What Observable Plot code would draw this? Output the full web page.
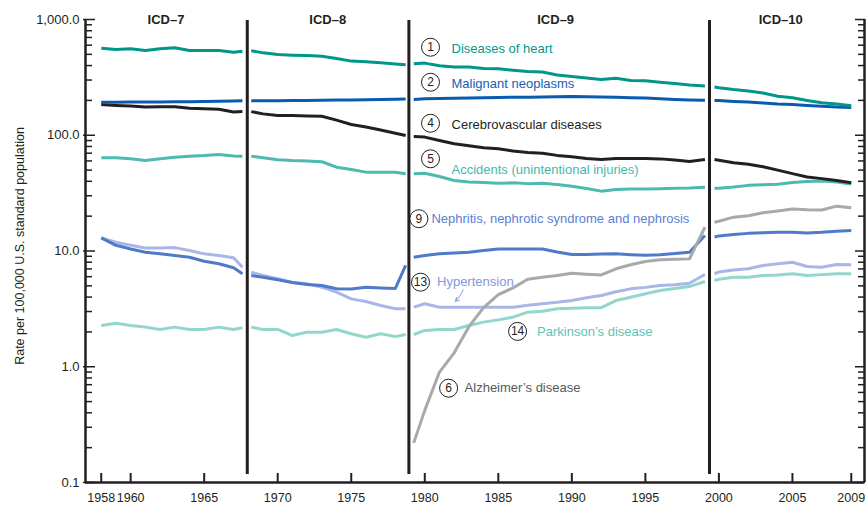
<!DOCTYPE html>
<html><head><meta charset="utf-8">
<script src="https://cdn.jsdelivr.net/npm/d3@7"></script>
<script src="https://cdn.jsdelivr.net/npm/@observablehq/plot@0.6"></script>
<style>
html,body{margin:0;padding:0;background:#fff;}
#chart svg{display:block;overflow:visible;}
</style></head><body><div id="chart"></div>
<script>
// ---------- DATA ----------
// Plotted year positions for each ICD revision period
const yearsICD7  = [1958,1959,1960,1961,1962,1963,1964,1965,1966,1967,1967.6];
const yearsICD8  = [1968.2,1969,1970,1971,1972,1973,1974,1975,1976,1977,1978,1978.7];
const yearsICD9  = [1979.25,1980,1981,1982,1983,1984,1985,1986,1987,1988,1989,1990,1991,1992,1993,1994,1995,1996,1997,1998,1999.05];
const yearsICD10 = [1999.7,2000,2001,2002,2003,2004,2005,2006,2007,2008,2009];
const revisionNames = ["ICD–7","ICD–8","ICD–9","ICD–10"];
const revisionBoundaries = [1967.93, 1978.92, 1999.36];
const revisionLabelYears = [1962.4, 1973.4, 1988.9, 2004.2];

// Age-adjusted death rates per 100,000 (ICD-7 | ICD-8 | ICD-9 | ICD-10)
const heart = [
  565,551,558,540,558,570,540,540,540,522,532,
  538,515,499,492,488,482,460,437,431,423,412,406,
  414,420,398,389,388,377,375,365,355,352,332,322,313,303,311,297,296,287,280,272,266,
  261,257,248,241,232,217,211,200,191,186,180];
const malignant = [
  193,193,194,194,194,195,195,196,197,198,199,
  199,199,199,200,200,201,202,202,203,204,205,206,
  204,207,208,209,210,211,212,213,213,214,215,216,215,214,213,211,210,207,204,202,201,
  200,199.6,196,193.5,190,186,184,181,178,175,173.5];
const cerebro = [
  184,181,179,175,176,176,171,169,168,159,160,
  160,153,148,148,147,146,135,124,118,111,104,99.5,
  97.5,96.4,90,84.4,81,78,76.6,73,71,70,67,65.3,63,61.7,63,63,63,62.5,61,59.3,61.7,
  61.6,60.9,57.9,56.2,53.5,50,46.6,43.6,42.2,40.7,38.9];
const accidents = [
  63.8,63.8,62.6,60.5,62.6,64.5,65.7,66.7,68.2,66.2,65.7,
  66,64,61.5,60.5,60,59,53,50.5,48,48,48,46.5,
  46.5,47,44,40.6,39.5,39,38.5,38.8,38.2,38.5,37.5,36.3,34.7,32.9,34,34.3,34.4,34.5,34.8,35,35.6,
  34.9,34.9,35.7,36.9,37.3,37.7,39.1,39.8,40.3,39.5,38];
const nephritis = [
  13.0,11.2,10.4,9.77,9.45,9.14,8.83,8.16,7.75,7.16,6.35,
  6.14,5.93,5.64,5.35,5.13,5.03,4.72,4.7,4.87,4.8,4.75,7.5,
  8.84,9.14,9.45,9.6,9.77,10.1,10.4,10.4,10.4,10.4,9.8,9.33,9.33,9.4,9.45,9.3,9.2,9.3,9.5,9.77,13.6,
  13.2,13.5,13.9,14.2,14.4,14.5,14.5,14.3,14.5,14.8,15.0];
const hypertension = [
  13.0,11.9,11.2,10.6,10.6,10.7,10.1,9.45,9.14,8.73,7.25,
  6.56,6.14,5.75,5.35,5.21,4.87,4.41,3.86,3.66,3.38,3.17,3.17,
  3.27,3.5,3.27,3.27,3.27,3.27,3.27,3.27,3.4,3.5,3.6,3.73,3.95,4.13,4.45,4.71,4.85,5.03,5.1,5.27,6.27,
  6.35,6.6,6.85,7.02,7.5,7.75,8.0,7.35,7.25,7.65,7.6];
const parkinson = [
  2.27,2.38,2.27,2.2,2.1,2.2,2.1,2.1,2.2,2.1,2.17,
  2.2,2.1,2.1,1.86,1.99,1.99,2.1,1.93,1.8,1.93,1.82,1.9,
  1.9,2.06,2.1,2.1,2.27,2.43,2.54,2.68,2.96,3.02,3.17,3.2,3.24,3.24,3.73,3.99,4.27,4.56,4.75,4.93,5.45,
  5.56,5.7,5.93,5.93,6.14,6.2,6.35,6.14,6.25,6.35,6.35];
const alzheimer = [
  null,null,null,null,null,null,null,null,null,null,null,
  null,null,null,null,null,null,null,null,null,null,null,null,
  0.22,0.42,0.9,1.32,2.22,3.24,4.2,4.8,5.7,5.94,6.14,6.43,6.3,6.21,7.02,7.6,8.11,8.4,8.5,8.55,16.1,
  17.7,18.1,19.6,20.2,21.4,22.2,23.1,22.7,22.6,24.4,23.6];

// Series labels (rank number, name) and label anchor (year, rate)
const labelNums   = ["1","2","4","5","9","13","14","6"];
const labelTexts  = ["Diseases of heart","Malignant neoplasms","Cerebrovascular diseases",
  "Accidents (unintentional injuries)","Nephritis, nephrotic syndrome and nephrosis",
  "Hypertension","Parkinson’s disease","Alzheimer’s disease"];
const labelYears  = [1980.39,1980.39,1980.39,1980.39,1979.6,1979.71,1986.31,1981.62];
const labelRates  = [576,287,127,62.6,19.0,5.38,2.02,0.653];

// Axis ticks
const yMajorTicks = [0.1,1,10,100,1000];
const xTickYears  = [1958,1960,1965,1970,1975,1980,1985,1990,1995,2000,2005,2009];
const yTitle = "Rate per 100,000 U.S. standard population";

// ---------- STYLES ----------
const FONT = "'Liberation Sans', Arial, Helvetica, sans-serif";
const INK = "#231f20";
const lineColors = {heart:"#00968a", malignant:"#0a5bb0", cerebro:INK, accidents:"#4dbab1",
  nephritis:"#4f79c9", hypertension:"#a9b7e8", parkinson:"#92d6cc", alzheimer:"#a7a9ac"};
const textColors = ["#00998c","#1460b5",INK,"#45b8ae","#5b80d6","#7f98e0","#5cc4b9","#58595b"];
const textDx = [21,21,21,21,12.5,16.5,19.5,16];
const textDy = [2,1.5,1.5,11,0,0,0,0];

// ---------- BUILD ----------
const allYears = [...yearsICD7, ...yearsICD8, ...yearsICD9, ...yearsICD10];
const segOf = [
  ...yearsICD7.map(() => 0), ...yearsICD8.map(() => 1),
  ...yearsICD9.map(() => 2), ...yearsICD10.map(() => 3)];
const rows = (vals) => vals.map((v, i) => ({year: allYears[i], value: v, seg: segOf[i]}))
  .filter(d => d.value != null);

const minorTicks = [];
for (const m of yMajorTicks.slice(0, -1)) for (let k = 2; k <= 9; k++) minorTicks.push(+(m * k).toPrecision(3));

const xDomain = [1956.93, 2009.9];
const labels = labelNums.map((n, i) => ({n, text: labelTexts[i], year: labelYears[i], rate: labelRates[i], i}));

const seriesOrder = [["parkinson",parkinson],["hypertension",hypertension],["nephritis",nephritis],
  ["accidents",accidents],["cerebro",cerebro],["malignant",malignant],["heart",heart],["alzheimer",alzheimer]];

const chart = Plot.plot({
  width: 867, height: 506,
  marginLeft: 85, marginRight: 3, marginTop: 19, marginBottom: 24,
  x: {domain: xDomain, axis: null},
  y: {type: "log", domain: [0.1, 1000], axis: null},
  style: {fontFamily: FONT, background: "#fff", color: INK, overflow: "visible"},
  marks: [
    // data lines
    ...seriesOrder.map(([k, vals]) => Plot.line(rows(vals), {
      x: "year", y: "value", z: "seg", stroke: lineColors[k],
      strokeWidth: 3, strokeLinejoin: "round", strokeLinecap: "butt"})),
    // revision dividers
    Plot.ruleX(revisionBoundaries, {y1: 1000, y2: 0.1, insetTop: 1, insetBottom: 8, stroke: INK, strokeWidth: 3}),
    Plot.text(revisionNames, {x: (d, i) => revisionLabelYears[i], y: 1000, text: d => d,
      fontWeight: "bold", fontSize: 13, fill: INK}),
    // frame lines
    Plot.ruleX([xDomain[0], xDomain[1]], {y1: 0.1, y2: 1000, stroke: INK, strokeWidth: 2.5}),
    Plot.ruleY([0.1], {x1: xDomain[0], x2: xDomain[1], stroke: INK, strokeWidth: 2.5}),
    // left axis ticks (inward)
    Plot.axisY(minorTicks, {anchor: "left", tickSize: 7, dx: 7, fill: "none", label: null, strokeWidth: 1.5, stroke: INK}),
    Plot.axisY(yMajorTicks, {anchor: "left", tickSize: 12, dx: 10, fill: "none", label: null, strokeWidth: 1.5, stroke: INK}),
    Plot.axisY(yMajorTicks, {anchor: "left", tickSize: 0, tickPadding: 6, tickFormat: d3.format(",.1f"),
      fontSize: 13, label: null, fill: INK}),
    // right axis ticks (inward)
    Plot.axisY(minorTicks, {anchor: "right", tickSize: 7, dx: -7, fill: "none", label: null, strokeWidth: 1.5, stroke: INK}),
    Plot.axisY(yMajorTicks, {anchor: "right", tickSize: 10, dx: -10, fill: "none", label: null, strokeWidth: 1.5, stroke: INK}),
    // x axis
    Plot.axisX(xTickYears, {anchor: "bottom", tickSize: 9, dy: -9, fill: "none", label: null, strokeWidth: 2, stroke: INK}),
    Plot.axisX(xTickYears, {anchor: "bottom", tickSize: 0, tickPadding: 11, tickFormat: d => String(d),
      fontSize: 12.5, label: null, fill: INK}),
    // y title
    Plot.text([yTitle], {frameAnchor: "left", textAnchor: "middle", dx: -66, dy: -5, rotate: -90,
      text: d => d, fontSize: 12.5, fill: INK}),
    // hypertension pointer arrow
    Plot.arrow([{x1: 1982.62, y1: 4.62, x2: 1982.09, y2: 3.68}], {x1: "x1", y1: "y1", x2: "x2", y2: "y2",
      stroke: "#7f98e0", strokeWidth: 1, headLength: 6, bend: 10}),
    // series labels: circled rank numbers
    Plot.dot(labels, {x: "year", y: "rate", r: 9, fill: "#fff", stroke: INK, strokeWidth: 1}),
    Plot.text(labels, {x: "year", y: "rate", text: "n", fontSize: 12, fill: INK}),
    // series names, each with its own offset from its circle
    ...labels.map((d) => Plot.text([d], {x: "year", y: "rate", text: "text", textAnchor: "start",
      fontSize: 13, dx: textDx[d.i], dy: textDy[d.i], fill: textColors[d.i]}))
  ]
});
document.getElementById("chart").appendChild(chart);
</script>
</body></html>
